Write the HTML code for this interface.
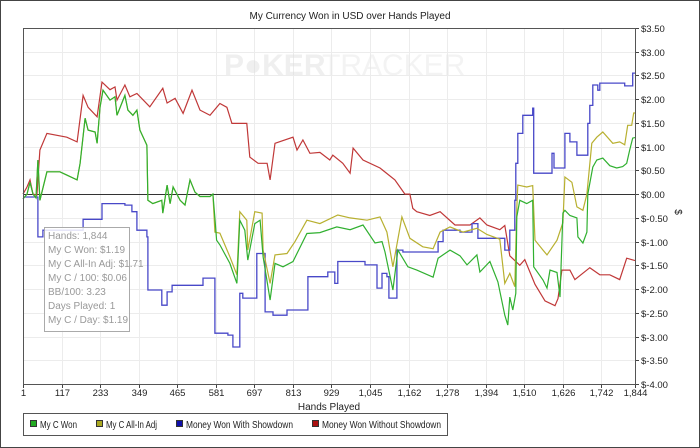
<!DOCTYPE html>
<html><head><meta charset="utf-8"><style>
body{margin:0;background:#fff;}
#wrap{position:relative;width:700px;height:448px;overflow:hidden;font-family:"Liberation Sans",sans-serif;}
svg text{font-family:"Liberation Sans",sans-serif;}
</style></head><body>
<div id="wrap">
<svg id="chart" width="700" height="448">
<rect x="0.5" y="0.5" width="699" height="447" fill="#fff" stroke="#444"/>
<text x="350" y="19" font-size="10" text-anchor="middle" fill="#222" textLength="201">My Currency Won in USD over Hands Played</text>
<g id="grid"></g>
<g opacity="0.45">
<text x="224" y="75" font-size="30" font-weight="bold" fill="#ddd">P<tspan fill="#ddd">●</tspan>KER</text>
<text x="322" y="75" font-size="30" fill="#e6e6e6">TRACKER</text>
</g>
<g id="series"></g>
<g id="axes"></g>
<g>
<rect x="44.5" y="227.5" width="85" height="104" fill="#fff" fill-opacity="0.85" stroke="#aaa"/>
<g font-size="10" fill="#999">
<text x="48" y="239">Hands: 1,844</text>
<text x="48" y="253">My C Won: $1.19</text>
<text x="48" y="267">My C All-In Adj: $1.71</text>
<text x="48" y="281">My C / 100: $0.06</text>
<text x="48" y="295">BB/100: 3.23</text>
<text x="48" y="309">Days Played: 1</text>
<text x="48" y="323">My C / Day: $1.19</text>
</g></g>
<text x="329" y="410" font-size="10" text-anchor="middle" fill="#222">Hands Played</text>
<text x="675" y="212" font-size="10" text-anchor="middle" fill="#222" transform="rotate(90 675 212)">$</text>
<g>
<rect x="23.5" y="413.5" width="424" height="22" fill="#fff" stroke="#555"/>
<g font-size="10" fill="#222">
<g><rect x="30.5" y="420.5" width="6" height="6" fill="#22aa22" stroke="#333"/><text x="40" y="428" textLength="37" lengthAdjust="spacingAndGlyphs">My C Won</text></g>
<g><rect x="96.5" y="420.5" width="6" height="6" fill="#aaa820" stroke="#333"/><text x="106" y="428" textLength="51" lengthAdjust="spacingAndGlyphs">My C All-In Adj</text></g>
<g><rect x="176.5" y="420.5" width="6" height="6" fill="#1010aa" stroke="#333"/><text x="186" y="428" textLength="107" lengthAdjust="spacingAndGlyphs">Money Won With Showdown</text></g>
<g><rect x="312.5" y="420.5" width="6" height="6" fill="#aa1010" stroke="#333"/><text x="322" y="428" textLength="119" lengthAdjust="spacingAndGlyphs">Money Won Without Showdown</text></g>
</g></g>
</svg>
</div>
<script>
const xTicks=[1,117,233,349,465,581,697,813,929,1045,1162,1278,1394,1510,1626,1742,1844];
const xTickLabels=["1","117","233","349","465","581","697","813","929","1,045","1,162","1,278","1,394","1,510","1,626","1,742","1,844"];
const yTicks=[3.5,3,2.5,2,1.5,1,0.5,0,-0.5,-1,-1.5,-2,-2.5,-3,-3.5,-4];
const redHands=[1,13,22,31,43,52,73,133,164,182,197,224,239,263,278,284,308,323,344,383,422,435,459,483,510,534,564,594,615,630,675,684,709,736,745,760,814,826,844,865,895,925,934,964,986,995,1025,1076,1121,1151,1166,1175,1187,1226,1257,1302,1347,1377,1398,1437,1452,1467,1497,1512,1543,1573,1603,1612,1624,1648,1663,1708,1738,1768,1798,1819,1844];
const redVals=[0,0.15,0.3,0,-0.02,0.93,1.28,1.2,1.1,2.08,1.83,1.63,2.36,2.2,2.26,1.98,2.3,2.05,2.12,1.84,2.23,1.92,2.02,1.7,2.19,1.77,1.66,1.91,1.83,1.49,1.49,0.78,0.65,0.65,0.3,1.07,1.2,0.93,1.14,0.86,0.88,0.72,0.82,0.65,0.44,0.97,0.72,0.55,0.3,0,0,-0.3,-0.37,-0.45,-0.37,-0.65,-0.65,-0.5,-0.65,-0.75,-0.66,-1.3,-1.5,-1.38,-1.9,-2.25,-2.35,-2.2,-1.6,-1.6,-1.8,-1.55,-1.7,-1.7,-1.8,-1.35,-1.4];
const greenHands=[1,13,22,31,40,46,52,73,112,133,164,173,188,197,218,224,233,242,263,278,284,308,317,332,344,353,374,377,392,419,422,435,444,453,474,489,504,519,534,564,573,579,584,594,624,645,654,669,678,699,715,724,745,760,784,814,856,895,946,986,1025,1061,1082,1091,1115,1130,1160,1187,1236,1251,1287,1317,1338,1368,1377,1407,1431,1452,1461,1467,1476,1485,1488,1497,1518,1536,1539,1567,1579,1588,1609,1618,1627,1633,1648,1669,1672,1687,1699,1702,1717,1729,1747,1768,1789,1807,1819,1828,1837,1844];
const greenVals=[-0.1,0,0.25,0,-0.08,0.72,-0.13,0.47,0.47,0.4,0.3,0.65,1.6,1.35,1.31,1.07,1.83,2.19,1.98,2.05,1.66,2.08,1.77,1.66,1.77,1.35,1.03,-0.13,-0.2,-0.13,-0.4,0.19,-0.2,0.15,-0.13,-0.23,0.3,0.04,-0.05,-0.05,0,-0.5,-0.97,-1.07,-1.46,-1.88,-0.55,-0.76,-1.39,-0.62,-0.55,-1.32,-2.23,-1.46,-1.53,-1.42,-0.83,-0.81,-0.69,-0.75,-0.65,-1.03,-1.0,-1.22,-2.02,-1.18,-1.53,-1.6,-1.75,-1.35,-1.18,-1.3,-1.49,-1.28,-1.64,-1.42,-1.85,-2.55,-2.76,-2.17,-2.44,-2.09,-0.48,-0.13,-0.2,-0.13,-1.53,-1.81,-1.98,-1.6,-1.65,-2.17,-0.4,-0.34,-0.45,-0.5,-0.9,-1.03,-0.8,0,0.57,0.72,0.76,0.6,0.55,0.58,0.65,0.93,1.18,1.19];
const yellowHands=[579,594,624,645,654,675,678,699,721,724,745,760,796,820,856,895,949,986,1037,1076,1097,1115,1142,1166,1205,1236,1257,1287,1326,1368,1398,1437,1452,1467,1482,1488,1491,1518,1536,1543,1567,1579,1609,1627,1633,1654,1669,1687,1699,1714,1729,1747,1777,1798,1813,1822,1834,1840,1844];
const yellowVals=[-0.8,-0.82,-1.32,-1.7,-0.37,-0.55,-1.18,-0.37,-0.4,-1.18,-1.88,-1.28,-1.25,-1.0,-0.55,-0.62,-0.44,-0.5,-0.55,-0.48,-0.8,-1.53,-0.48,-0.93,-1.11,-1.15,-0.8,-0.69,-0.8,-0.72,-0.85,-0.95,-1.88,-1.67,-1.95,-0.3,0.19,0.15,0.18,-0.97,-1.18,-1.28,-0.97,-0.6,0.36,0.25,-0.27,-0.34,0,1.07,1.2,1.31,1.07,1.1,1.04,1.45,1.45,1.71,1.71];
const blueHands=[1,46,61,182,239,308,329,344,374,377,419,435,450,543,579,618,633,654,663,705,730,754,796,859,919,940,949,1031,1067,1082,1097,1103,1127,1145,1251,1266,1317,1353,1371,1452,1467,1482,1485,1491,1506,1536,1539,1594,1600,1633,1648,1669,1702,1708,1717,1732,1738,1813,1837,1844];
const blueVals=[-0.06,-0.9,-0.76,-0.53,-0.2,-0.23,-0.37,-0.76,-0.9,-2.02,-2.34,-2.06,-1.92,-1.77,-2.93,-2.97,-3.22,-2.09,-2.19,-1.25,-2.48,-2.55,-2.44,-1.74,-1.64,-1.88,-1.42,-1.49,-1.98,-1.67,-1.74,-2.19,-1.18,-1.22,-1.0,-0.76,-0.8,-0.62,-0.93,-1.18,-0.76,-0.13,0.65,1.28,1.66,1.81,0.44,0.86,0.55,1.28,1.1,0.82,1.49,1.87,2.3,2.19,2.34,2.28,2.55,2.55];

const L=23,R=635,T=28,B=384,XMIN=1,XMAX=1844,YMAX=3.5,YMIN=-4;
function xs(h){return L+(h-XMIN)/(XMAX-XMIN)*(R-L);}
function ys(v){return T+(YMAX-v)/(YMAX-YMIN)*(B-T);}
const NS="http://www.w3.org/2000/svg";
function mk(tag,attrs,parent){const e=document.createElementNS(NS,tag);for(const k in attrs)e.setAttribute(k,attrs[k]);parent.appendChild(e);return e;}
const grid=document.getElementById('grid'),axes=document.getElementById('axes'),series=document.getElementById('series');
xTicks.forEach((t,i)=>{
  const x=Math.round(xs(t))+0.5;
  const g=mk('line',{x1:x,x2:x,y1:T,y2:B,stroke:'#ececec'},grid);
  
  
  const tk=mk('line',{x1:x,x2:x,y1:B,y2:B+4,stroke:'#444'},axes);
  
  
  const lb=mk('text',{x:x,y:B+12,'font-size':9.5,'text-anchor':'middle',fill:'#222'},axes);
  lb.textContent=xTickLabels[i];
  
  
});
yTicks.forEach(v=>{
  const y=Math.round(ys(v))+0.5;
  const g=mk('line',{x1:L,x2:R,y1:y,y2:y,stroke:v===0?'#333':'#ececec'},grid);
  
  
  const tk=mk('line',{x1:R,x2:R+4,y1:y,y2:y,stroke:'#444'},axes);
  
  
  const lb=mk('text',{x:R+6,y:y+3.5,'font-size':9.5,fill:'#222'},axes);
  lb.textContent='$'+(v<0?'-':'')+Math.abs(v).toFixed(2);
  
  
});
const fr=mk('path',{d:`M${L+0.5},${B+0.5}V${T+0.5}H${R+0.5}V${B+0.5}H${L+0.5}`,fill:'none',stroke:'#555'},axes);


function linePath(hs,vs){return hs.map((h,i)=>(i?'L':'M')+xs(h).toFixed(1)+','+ys(vs[i]).toFixed(1)).join('');}
function stepPath(hs,vs){let d='M'+xs(hs[0]).toFixed(1)+','+ys(vs[0]).toFixed(1);for(let i=1;i<hs.length;i++){d+='H'+xs(hs[i]).toFixed(1)+'V'+ys(vs[i]).toFixed(1);}return d;}
const yFullH=greenHands.filter(h=>h<579).concat(yellowHands);
const yFullV=greenVals.filter((v,i)=>greenHands[i]<579).concat(yellowVals);
const red=mk('path',{d:linePath(redHands,redVals),fill:'none',stroke:'#c03838','stroke-width':1.2},series);


const blue=mk('path',{d:stepPath(blueHands,blueVals),fill:'none',stroke:'#4848c8','stroke-width':1.3},series);


const yel=mk('path',{d:linePath(yFullH,yFullV),fill:'none',stroke:'#b8b030','stroke-width':1.2},series);


const grn=mk('path',{d:linePath(greenHands,greenVals),fill:'none',stroke:'#30b030','stroke-width':1.2},series);


</script>
</body></html>
